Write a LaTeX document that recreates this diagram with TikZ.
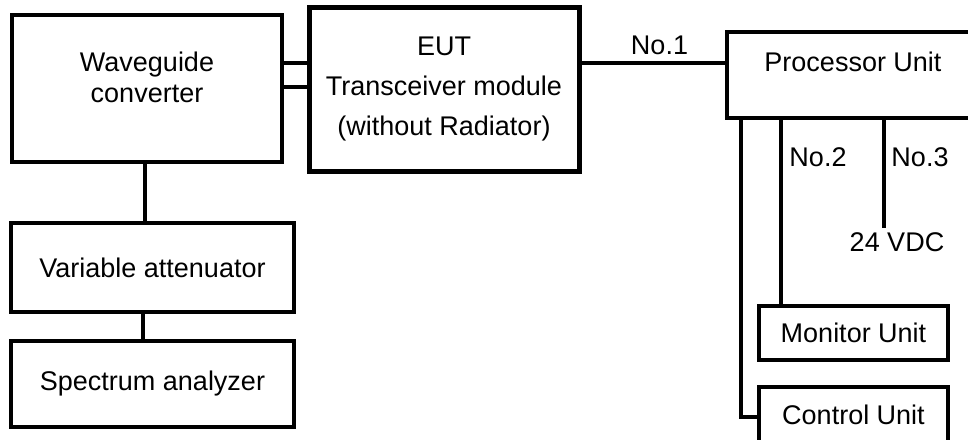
\documentclass[tikz,border=0pt]{standalone}
\usepackage{fontspec}
\setmainfont{Liberation Sans}
\begin{document}
\begin{tikzpicture}[x=1pt,y=-1pt,
  every node/.style={font=\fontsize{27}{31}\selectfont, inner sep=0pt, outer sep=0pt},
  box/.style={draw, line width=3.2pt, rectangle},
  thickbox/.style={draw, line width=5pt, rectangle},
  wire/.style={line width=3.2pt},
]
\useasboundingbox (0,0) rectangle (968,439);

% boxes
\node[box, minimum width=270, minimum height=147] (wg) at (147,88.5) {};
\node[align=center] (wgt) at (147,77) {Waveguide\\converter};
\node[thickbox, minimum width=270, minimum height=164, align=center,
      font=\fontsize{27}{40}\selectfont] (eut) at (444,89)
      {EUT\\Transceiver module\\(without Radiator)};
\node[box, minimum width=283, minimum height=89] (att) at (152.5,267.5) {Variable attenuator};
\node[box, minimum width=283, minimum height=86] (spec) at (152.5,384) {Spectrum analyzer};
\node[box, minimum width=263, minimum height=86] (proc) at (858.5,75) {};
\node (proct) at (853,62) {Processor Unit};
\node[box, minimum width=189, minimum height=54] (mon) at (853.5,333) {Monitor Unit};
\node[box, minimum width=189, minimum height=80] (ctrl) at (853.5,427) {};
\node (ctrlt) at (853.5,415) {Control Unit};

% helper coordinates
\coordinate (ya) at (0,63);
\coordinate (yb) at (0,87);
\coordinate (xa) at (145,0);
\coordinate (xb) at (143,0);
\coordinate (xc) at (741,0);
\coordinate (yc) at (0,417);
\coordinate (xm) at (781,0);
\coordinate (v24) at (884,228);

% connectors
\draw[wire] (wg.east |- ya) -- (eut.west |- ya);
\draw[wire] (wg.east |- yb) -- (eut.west |- yb);
\draw[wire] (wg.south -| xa) -- (att.north -| xa);
\draw[wire] (att.south -| xb) -- (spec.north -| xb);
\draw[wire] (eut.east |- ya) -- (proc.west |- ya);
\draw[wire] (proc.south -| xm) -- (mon.north -| xm);
\draw[wire] (proc.south -| v24) -- (v24);
\draw[wire] (proc.south -| xc) |- (ctrl.west |- yc);

% labels
\node (n1) at (659.5,45) {No.1};
\node (n2) at (818,157) {No.2};
\node (n3) at (920,157) {No.3};
\node (vdc) at (897,242) {24 VDC};
\end{tikzpicture}
\end{document}
